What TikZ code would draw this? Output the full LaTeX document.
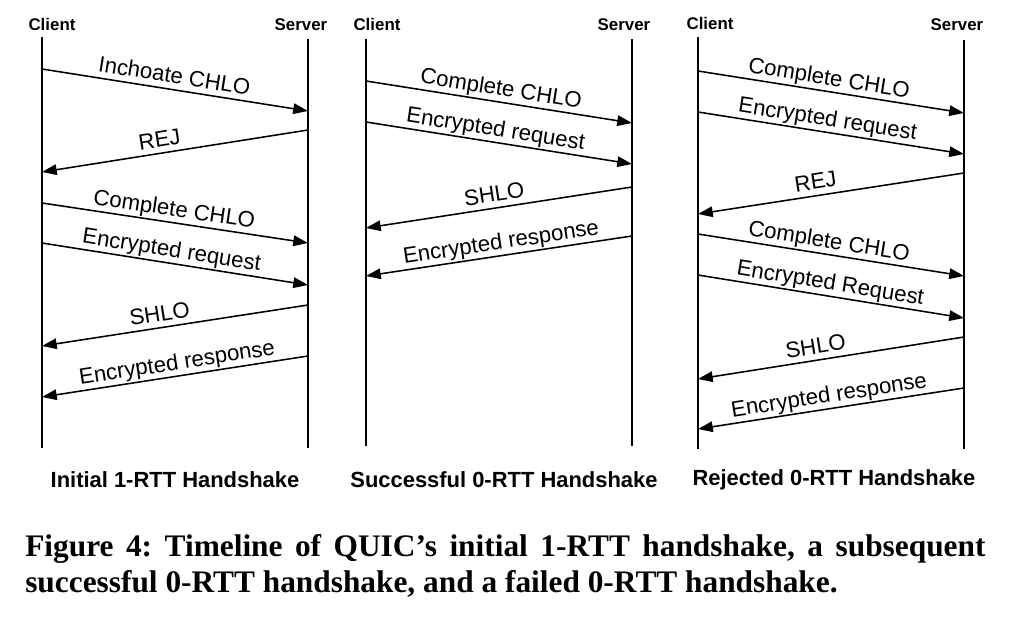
\documentclass[tikz,border=0pt]{standalone}
\usepackage{fontspec}
\setmainfont{Liberation Serif}
\setsansfont{Liberation Sans}
\usetikzlibrary{arrows.meta, positioning}

\newcommand\nohyph{\frenchspacing\hyphenpenalty10000\exhyphenpenalty10000\relax}

\tikzset{
  life/.style={line width=1.4pt},
  msg/.style={line width=1.1pt, -{Triangle[length=10.5pt, width=7.5pt]}},
  lbl/.style={sloped, above=3pt, inner sep=1pt, text depth=0pt,
    font=\sffamily\fontsize{15.8}{18}\selectfont},
  who/.style={inner sep=1pt, font=\sffamily\bfseries\fontsize{12}{14}\selectfont},
  title/.style={inner sep=1pt, font=\sffamily\bfseries\fontsize{15.6}{18}\selectfont},
  caption/.style={anchor=north west, inner sep=0pt, text width=24cm, align=justify,
    font=\nohyph\bfseries\fontsize{22.3}{25.8}\selectfont}
}

\begin{document}
\begin{tikzpicture}[x=0.025cm, y=-0.025cm]
\useasboundingbox (0,0) rectangle (1022,622);

% lifelines
\coordinate (c1) at (42,37);  \coordinate (c1e) at (42,448);
\coordinate (s1) at (308,39); \coordinate (s1e) at (308,448);
\coordinate (c2) at (366,39); \coordinate (c2e) at (366,446);
\coordinate (s2) at (632,39); \coordinate (s2e) at (632,446);
\coordinate (c3) at (698,37); \coordinate (c3e) at (698,449);
\coordinate (s3) at (964,40); \coordinate (s3e) at (964,449);
\foreach \l in {c1,s1,c2,s2,c3,s3}
  \draw[life] (\l) -- (\l e);

\node[who] (cli1) at (52,24)  {Client};
\node[who] (srv1) at (301,25) {Server};
\node[who] (cli2) at (377,24) {Client};
\node[who] (srv2) at (624,25) {Server};
\node[who] (cli3) at (710,23) {Client};
\node[who] (srv3) at (957,25) {Server};

% messages
\foreach \f/\t/\ya/\yb/\p/\txt in {
    c1/s1/69/111/.49/Inchoate CHLO,
    s1/c1/130/172/.55/REJ,
    c1/s1/203/243/.49/Complete CHLO,
    c1/s1/243/285/.48/Encrypted request,
    s1/c1/305/346/.55/SHLO,
    s1/c1/356/397/.485/Encrypted response,
    c2/s2/81/123/.5/Complete CHLO,
    c2/s2/122/164/.48/Encrypted request,
    s2/c2/187/228/.51/SHLO,
    s2/c2/236/276/.485/Encrypted response,
    c3/s3/71/113/.485/Complete CHLO,
    c3/s3/112/154/.48/Encrypted request,
    s3/c3/173/214/.55/REJ,
    c3/s3/234/276/.485/Complete CHLO,
    c3/s3/275/318/.49/Encrypted Request,
    s3/c3/337/379/.55/SHLO,
    s3/c3/388/429/.5/Encrypted response}
  \draw[msg] (\f |- 0,\ya) -- node[lbl, pos=\p] {\txt} (\t |- 0,\yb);

\node[title] (ttl1) at (175,480) {Initial 1-RTT Handshake};
\node[title] (ttl2) at (504,480) {Successful 0-RTT Handshake};
\node[title] (ttl3) at (834,480) {Rejected 0-RTT Handshake};

\node[caption] (cap) at (25,534) {Figure 4: Timeline of QUIC’s initial 1-RTT handshake, a subsequent successful 0-RTT handshake, and a failed 0-RTT handshake.};
\end{tikzpicture}
\end{document}
